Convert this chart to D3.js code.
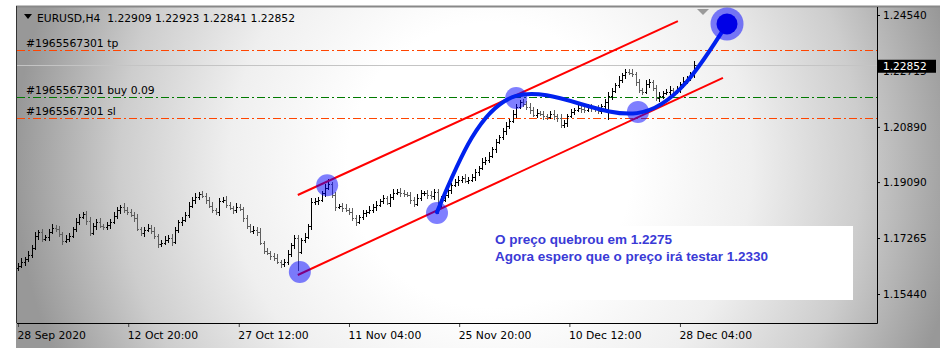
<!DOCTYPE html>
<html><head><meta charset="utf-8">
<script src="https://cdn.jsdelivr.net/npm/d3@7"></script>
<style>body{margin:0;background:#fff;} svg{display:block;}</style>
</head><body><svg id="c" width="950" height="357"></svg>
<script>
// ---------- DATA ----------
const symbolTitle = "EURUSD,H4  1.22909 1.22923 1.22841 1.22852";
const firstOpen = 1.1628;
const closes = [
1.1635,1.1648,1.1658,1.1671,1.1694,1.1733,1.1746,1.1724,1.1730,1.1746,
1.1759,1.1756,1.1740,1.1717,1.1724,1.1733,1.1756,1.1779,1.1795,1.1805,
1.1782,1.1743,1.1766,1.1779,1.1766,1.1763,1.1769,1.1779,1.1798,1.1818,
1.1828,1.1818,1.1812,1.1802,1.1792,1.1756,1.1743,1.1753,1.1759,1.1750,
1.1733,1.1707,1.1710,1.1720,1.1727,1.1714,1.1753,1.1779,1.1785,1.1802,
1.1831,1.1851,1.1860,1.1870,1.1864,1.1851,1.1831,1.1818,1.1812,1.1847,
1.1851,1.1834,1.1825,1.1818,1.1828,1.1821,1.1792,1.1766,1.1750,1.1753,
1.1746,1.1710,1.1684,1.1678,1.1668,1.1661,1.1648,1.1642,1.1648,1.1674,
1.1704,1.1727,1.1681,1.1720,1.1730,1.1766,1.1844,1.1847,1.1851,1.1873,
1.1890,1.1903,1.1867,1.1828,1.1831,1.1825,1.1818,1.1812,1.1792,1.1779,
1.1795,1.1808,1.1812,1.1818,1.1828,1.1834,1.1847,1.1857,1.1841,1.1860,
1.1873,1.1877,1.1873,1.1870,1.1867,1.1851,1.1838,1.1857,1.1873,1.1873,
1.1867,1.1864,1.1877,1.1831,1.1851,1.1867,1.1883,1.1899,1.1909,1.1916,
1.1922,1.1913,1.1916,1.1926,1.1942,1.1955,1.1975,1.1981,1.1994,1.2017,
1.2040,1.2056,1.2076,1.2092,1.2108,1.2131,1.2154,1.2170,1.2164,1.2154,
1.2144,1.2128,1.2134,1.2131,1.2124,1.2121,1.2131,1.2124,1.2118,1.2095,
1.2102,1.2124,1.2138,1.2144,1.2151,1.2147,1.2144,1.2154,1.2151,1.2147,
1.2141,1.2157,1.2170,1.2190,1.2206,1.2226,1.2242,1.2258,1.2268,1.2265,
1.2262,1.2235,1.2209,1.2203,1.2229,1.2235,1.2216,1.2183,1.2190,1.2199,
1.2203,1.2209,1.2203,1.2212,1.2229,1.2239,1.2245,1.2262,1.2291,1.22852
];
// wick extensions in pips above max(open,close) / below min(open,close)
const wickUp = [
9,12,7,13,10,14,8,11,7,10, 13,9,11,7,14,10,8,12,11,7, 10,14,8,11,13,7,10,9,15,11, 7,13,10,8,11,14,7,10,12,9,
11,7,10,14,8,12,11,7,10,9, 14,11,12,7,10,8,11,13,7,10, 8,14,11,7,12,10,8,11,7,14, 10,12,8,11,7,10,14,8,11,12,
7,10,11,8,12,7,14,11,10,8, 12,16,7,11,8,10,14,7,12,11, 8,10,7,12,11,14,8,10,7,11, 12,8,14,10,7,11,8,12,10,7,
11,14,8,10,12,7,11,8,10,14, 7,12,11,8,10,7,14,11,12,8, 10,7,11,14,8,12,10,7,11,8, 14,10,12,7,11,8,10,14,7,12,
11,8,10,7,12,14,8,11,10,7, 12,8,11,14,10,7,12,8,11,10, 14,7,11,8,12,10,7,11,14,8, 10,12,7,11,8,14,10,7,12,1.4
];
const wickDn = [
10,7,12,8,11,7,14,10,8,12, 7,11,10,14,8,12,7,10,11,8, 14,10,7,12,8,11,10,14,7,8, 12,10,11,7,14,8,10,12,7,11,
8,14,10,7,11,12,8,10,14,7, 11,8,12,10,7,14,8,11,10,12, 7,11,8,14,10,7,12,11,8,10, 14,7,11,8,12,10,7,14,11,8,
10,12,62,7,11,8,14,10,12,7, 11,8,10,14,7,12,8,11,10,14, 7,11,12,8,10,14,7,11,8,12, 10,7,14,11,8,12,10,7,11,8,
14,10,12,26,11,8,10,14,7,12, 11,8,10,7,12,14,8,11,10,7, 12,8,11,14,10,7,12,8,11,10, 14,7,11,8,12,10,7,11,14,8,
10,12,7,11,8,14,10,7,12,8, 11,10,14,60,12,8,11,10,14,7, 10,12,8,11,7,14,10,8,12,11, 7,10,12,8,11,14,10,7,12,1.1
];
const yTickValues = [1.24540, 1.22715, 1.20890, 1.19090, 1.17265, 1.15440];
const xTickIdx = [0, 32.3, 64.7, 97, 129.3, 161.6, 194];
const xTickLabels = ["28 Sep 2020","12 Oct 20:00","27 Oct 12:00","11 Nov 04:00","25 Nov 20:00","10 Dec 12:00","28 Dec 04:00"];
const lastPrice = 1.22852;
const orderLabels = ["#1965567301 tp", "#1965567301 buy 0.09", "#1965567301 sl"];
const orderPrices = [1.2340, 1.2187, 1.2118];
const orderKinds = ["tp", "buy", "sl"];
const upperChannel = [[82, 1.1867], [193.4, 1.2434]];
const lowerChannel = [[82, 1.1606], [206.6, 1.2249]];
const touchIdx = [82.6, 90.6, 122.8, 146.0, 181.7];
const touchPrice = [1.1616, 1.1899, 1.1808, 1.2183, 1.2138];
const forecastIdx = [122.8, 146.0, 181.4, 207.8];
const forecastPrice = [1.1811, 1.2190, 1.2134, 1.2425];
const noteLines = ["O preço quebrou em 1.2275", "Agora espero que o preço irá testar 1.2330"];

// ---------- CHART ----------
const svg = d3.select("#c");
const W = 950, H = 357;
const plot = {l: 17, r: 877, t: 7, b: 323};
const x = d3.scaleLinear().domain([0, 199]).range([18, 697]);
const y = d3.scaleLinear().domain([1.1544, 1.2454]).range([294, 15]);
const FONT = "DejaVu Sans, Verdana, sans-serif";

const defs = svg.append("defs");
const rg = defs.append("radialGradient").attr("id", "bg").attr("gradientUnits", "userSpaceOnUse")
  .attr("cx", 490).attr("cy", 165).attr("r", 475);
[[0, "#ffffff"], [0.3, "#ffffff"], [0.55, "#efefef"], [0.78, "#cdcdcd"], [1, "#989898"]]
  .forEach(([o, c]) => rg.append("stop").attr("offset", o).attr("stop-color", c));

svg.append("rect").attr("width", W).attr("height", H).attr("fill", "#fff");
svg.append("rect").attr("x", 16).attr("y", 6).attr("width", 924).attr("height", 342).attr("fill", "url(#bg)");
svg.append("line").attr("x1", 16).attr("x2", 940).attr("y1", 6.5).attr("y2", 6.5).attr("stroke", "#888").attr("stroke-width", 2);
svg.append("line").attr("x1", 16.5).attr("x2", 16.5).attr("y1", 6).attr("y2", plot.b).attr("stroke", "#333");

// order level lines
const ordColor = {tp: "#ff4500", buy: "#007a00", sl: "#ff4500"};
// current price line
svg.append("line").attr("x1", plot.l).attr("x2", plot.r)
  .attr("y1", Math.round(y(lastPrice)) - 1.5).attr("y2", Math.round(y(lastPrice)) - 1.5)
  .attr("stroke", "#c4c4c4").attr("stroke-width", 1);
orderPrices.forEach((p, i) => {
  const yy = Math.round(y(p)) + 0.5;
  svg.append("line").attr("x1", plot.l).attr("x2", plot.r).attr("y1", yy).attr("y2", yy)
    .attr("stroke", ordColor[orderKinds[i]]).attr("stroke-width", 1).attr("stroke-dasharray", "8,3,2,3");
  svg.append("text").attr("x", 26).attr("y", yy - 3.5).text(orderLabels[i])
    .attr("font-family", FONT).attr("font-size", 10.8).attr("fill", "#000");
});

// bars
const bars = closes.map((c, i) => {
  const o = i === 0 ? firstOpen : closes[i - 1];
  return {i, o, c, h: Math.max(o, c) + wickUp[i] * 1e-4, l: Math.min(o, c) - wickDn[i] * 1e-4};
});
const gb = svg.append("g").attr("shape-rendering", "crispEdges");
bars.forEach(b => {
  const xx = Math.round(x(b.i)) + 0.5;
  const col = b.c >= b.o ? "#000" : "#5e5e5e";
  gb.append("line").attr("x1", xx).attr("x2", xx).attr("y1", y(b.h)).attr("y2", y(b.l)).attr("stroke", col);
  gb.append("line").attr("x1", xx - 1.5).attr("x2", xx).attr("y1", Math.round(y(b.o)) + 0.5).attr("y2", Math.round(y(b.o)) + 0.5).attr("stroke", col);
  gb.append("line").attr("x1", xx).attr("x2", xx + 1.5).attr("y1", Math.round(y(b.c)) + 0.5).attr("y2", Math.round(y(b.c)) + 0.5).attr("stroke", col);
});

// channel lines
[upperChannel, lowerChannel].forEach(ch => {
  svg.append("line").attr("x1", x(ch[0][0])).attr("y1", y(ch[0][1]))
    .attr("x2", x(ch[1][0])).attr("y2", y(ch[1][1]))
    .attr("stroke", "#ff0000").attr("stroke-width", 2);
});

// touch circles
touchIdx.forEach((t, i) => {
  svg.append("circle").attr("cx", x(t)).attr("cy", y(touchPrice[i])).attr("r", 11)
    .attr("fill", "#0000ff").attr("fill-opacity", 0.5);
});

// forecast curve
const pts = forecastIdx.map((t, i) => [x(t), y(forecastPrice[i])]);
svg.append("path").attr("d", d3.line().curve(d3.curveNatural)(pts))
  .attr("fill", "none").attr("stroke", "#0022ee").attr("stroke-width", 4).attr("stroke-linecap", "round");
const tgt = pts[pts.length - 1];
svg.append("circle").attr("cx", tgt[0]).attr("cy", tgt[1]).attr("r", 16.5).attr("fill", "#0000ff").attr("fill-opacity", 0.5);
svg.append("circle").attr("cx", tgt[0]).attr("cy", tgt[1]).attr("r", 10.5).attr("fill", "#0000e6");

// shift marker
svg.append("path").attr("d", "M697,9 L709,9 L703,15 Z").attr("fill", "#9a9a9a");

// note box
svg.append("rect").attr("x", 478).attr("y", 226).attr("width", 375).attr("height", 74).attr("fill", "#fff");
noteLines.forEach((t, i) => {
  svg.append("text").attr("x", 495).attr("y", 244 + i * 16.5).text(t)
    .attr("font-family", "Liberation Sans, Arial, sans-serif").attr("font-weight", "bold")
    .attr("font-size", 13.5).attr("fill", "#3a3ad6");
});

// axes
const yAxis = d3.axisRight(y).tickValues(yTickValues).tickFormat(d3.format(".5f")).tickSize(3).tickPadding(3);
const gy = svg.append("g").attr("transform", `translate(${plot.r},0)`).call(yAxis);
gy.select(".domain").remove();
gy.selectAll("text").attr("font-family", FONT).attr("font-size", 10.6).attr("fill", "#000");
gy.selectAll("line").attr("stroke", "#000");

const xAxis = d3.axisBottom(x).tickValues(xTickIdx).tickFormat((d, i) => xTickLabels[i]).tickSize(4).tickPadding(4);
const gx = svg.append("g").attr("transform", `translate(0,${plot.b})`).call(xAxis);
gx.select(".domain").remove();
gx.selectAll("text").attr("text-anchor", "start").attr("dx", -1).attr("font-family", FONT).attr("font-size", 10.8).attr("fill", "#000");
gx.selectAll("line").attr("stroke", "#444");

svg.append("line").attr("x1", plot.l).attr("x2", plot.r + 0.5).attr("y1", plot.b + 0.5).attr("y2", plot.b + 0.5).attr("stroke", "#000");
svg.append("line").attr("x1", plot.r + 0.5).attr("x2", plot.r + 0.5).attr("y1", plot.t).attr("y2", plot.b + 0.5).attr("stroke", "#000");

// current price label box
const ly = y(lastPrice);
svg.append("rect").attr("x", plot.r + 1).attr("y", ly - 7).attr("width", 58).attr("height", 13).attr("fill", "#000");
svg.append("text").attr("x", plot.r + 6).attr("y", ly + 3.5).text(d3.format(".5f")(lastPrice))
  .attr("font-family", FONT).attr("font-size", 10.6).attr("fill", "#fff");

// title
svg.append("path").attr("d", "M24,14 L32,14 L28,19 Z").attr("fill", "#000");
svg.append("text").attr("x", 37).attr("y", 22).text(symbolTitle).attr("xml:space", "preserve")
  .style("white-space", "pre").attr("font-family", FONT).attr("font-size", 10.8).attr("fill", "#000")
  .attr("textLength", 258).attr("lengthAdjust", "spacingAndGlyphs");
</script></body></html>
